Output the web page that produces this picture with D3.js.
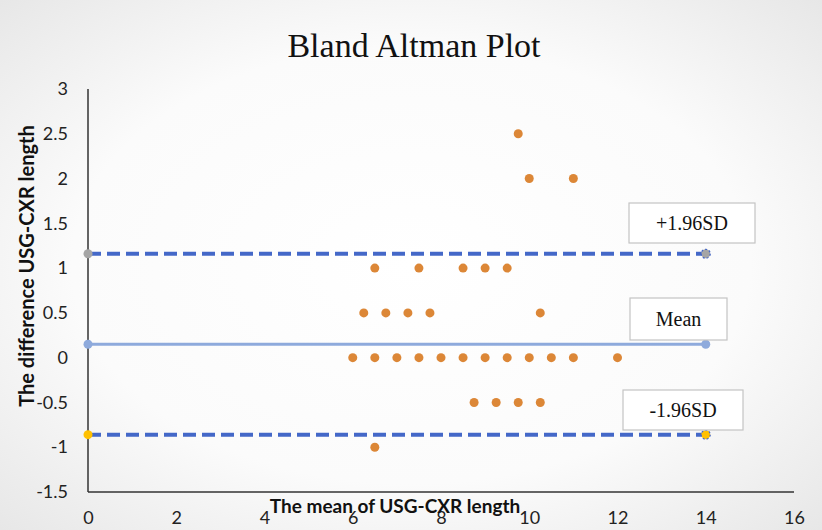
<!DOCTYPE html>
<html>
<head>
<meta charset="utf-8">
<script src="https://cdn.jsdelivr.net/npm/d3@7"></script>
<style>
  html, body { margin: 0; padding: 0; }
  body { width: 822px; height: 530px; overflow: hidden; }
  .tick text { font-family: Lato, "Open Sans", sans-serif; font-size: 18px; fill: #222; }
</style>
</head>
<body>
<div id="chart"></div>
<script>
// points: mean and difference of USG/CXR length
const meanVals = [9.75, 10, 11,
  6.5, 7.5, 8.5, 9, 9.5,
  6.25, 6.75, 7.25, 7.75, 10.25,
  6, 6.5, 7, 7.5, 8, 8.5, 9, 9.5, 10, 10.5, 11, 12,
  8.75, 9.25, 9.75, 10.25,
  6.5]
const diffVals = [2.5, 2, 2,
  1, 1, 1, 1, 1,
  0.5, 0.5, 0.5, 0.5, 0.5,
  0, 0, 0, 0, 0, 0, 0, 0, 0, 0, 0, 0,
  -0.5, -0.5, -0.5, -0.5,
  -1]

const refNames = ['+1.96SD', 'Mean', '-1.96SD']
const refValues = [1.16, 0.15, -0.86]
const refStart = 0
const refEnd = 14

const xTicks = [0, 2, 4, 6, 8, 10, 12, 14, 16]
const yTicks = [-1.5, -1, -0.5, 0, 0.5, 1, 1.5, 2, 2.5, 3]

const width = 822, height = 530
const svg = d3.select('#chart').append('svg')
    .attr('width', width)
    .attr('height', height)

const defs = svg.append('defs')
const grad = defs.append('radialGradient')
    .attr('id', 'bg')
    .attr('cx', '50%').attr('cy', '50%').attr('r', '75%')
grad.append('stop').attr('offset', '0%').attr('stop-color', '#ffffff')
grad.append('stop').attr('offset', '55%').attr('stop-color', '#fbfbfb')
grad.append('stop').attr('offset', '100%').attr('stop-color', '#e4e4e4')

svg.append('rect')
    .attr('width', width)
    .attr('height', height)
    .attr('fill', 'url(#bg)')

const xScale = d3.scaleLinear().domain([0, 16]).range([88, 794])
const yScale = d3.scaleLinear().domain([-1.5, 3]).range([492, 89])

// title
svg.append('text')
    .attr('x', 414)
    .attr('y', 57)
    .attr('text-anchor', 'middle')
    .style('font-family', '"Liberation Serif", "Times New Roman", serif')
    .style('font-size', '34px')
    .style('fill', '#111')
    .text('Bland Altman Plot')

// axes (labels only, lines drawn below)
const xAxis = svg.append('g')
    .attr('transform', 'translate(0,' + yScale(-1.5) + ')')
    .call(d3.axisBottom(xScale).tickValues(xTicks).tickSize(0).tickPadding(19))
xAxis.select('.domain').remove()

const yAxis = svg.append('g')
    .attr('transform', 'translate(' + xScale(0) + ',0)')
    .call(d3.axisLeft(yScale).tickValues(yTicks).tickSize(0).tickPadding(20).tickFormat(d => String(d)))
yAxis.select('.domain').remove()

svg.append('line')
    .attr('x1', xScale(0)).attr('x2', xScale(0))
    .attr('y1', yScale(3)).attr('y2', yScale(-1.5))
    .attr('stroke', '#333').attr('stroke-width', 1.5)
svg.append('line')
    .attr('x1', xScale(0)).attr('x2', xScale(16))
    .attr('y1', yScale(-1.5)).attr('y2', yScale(-1.5))
    .attr('stroke', '#333').attr('stroke-width', 1.5)

// axis titles
svg.append('text')
    .attr('x', 395)
    .attr('y', 513)
    .attr('text-anchor', 'middle')
    .style('font-family', 'Lato, "Open Sans", sans-serif')
    .style('font-weight', 'bold')
    .style('font-size', '19px')
    .style('fill', '#111')
    .text('The mean of USG-CXR length')

svg.append('text')
    .attr('transform', 'translate(34,266) rotate(-90)')
    .attr('text-anchor', 'middle')
    .style('font-family', 'Lato, "Open Sans", sans-serif')
    .style('font-weight', 'bold')
    .style('font-size', '20px')
    .style('fill', '#111')
    .text('The difference USG-CXR length')

// reference lines
const refStyle = [
  {stroke: '#4468c8', width: 4, dash: '13,6', start: '#a5a5a5', end: '#a5a5a5'},
  {stroke: '#8eaadc', width: 3, dash: null, start: '#8eaadc', end: '#8eaadc'},
  {stroke: '#4468c8', width: 4, dash: '13,6', start: '#ffc000', end: '#ffc000'}
]

refValues.forEach(function (v, i) {
  const s = refStyle[i]
  svg.append('line')
      .attr('x1', xScale(refStart)).attr('x2', xScale(refEnd))
      .attr('y1', yScale(v)).attr('y2', yScale(v))
      .attr('stroke', s.stroke)
      .attr('stroke-width', s.width)
      .attr('stroke-dasharray', s.dash)
  svg.append('circle')
      .attr('cx', xScale(refStart)).attr('cy', yScale(v)).attr('r', 4.5)
      .attr('fill', s.start)
  svg.append('circle')
      .attr('cx', xScale(refEnd)).attr('cy', yScale(v)).attr('r', 4.5)
      .attr('fill', s.end)
      .attr('stroke', i === 1 ? 'none' : '#4468c8')
      .attr('stroke-width', 1.2)
      .attr('stroke-dasharray', '2,2')
})

// points
svg.append('g')
  .selectAll('circle')
  .data(meanVals.map((m, i) => ({x: m, y: diffVals[i]})))
  .enter().append('circle')
    .attr('cx', d => xScale(d.x))
    .attr('cy', d => yScale(d.y))
    .attr('r', 4.5)
    .attr('fill', '#dc8737')

// label boxes
const boxes = [
  {x: 629, y: 203, w: 126, h: 40},
  {x: 630, y: 298, w: 97, h: 42},
  {x: 623, y: 390, w: 120, h: 40}
]
boxes.forEach(function (b, i) {
  svg.append('rect')
      .attr('x', b.x).attr('y', b.y)
      .attr('width', b.w).attr('height', b.h)
      .attr('fill', '#fff')
      .attr('stroke', '#c4c4c4')
      .attr('stroke-width', 1.2)
  svg.append('text')
      .attr('x', b.x + b.w / 2)
      .attr('y', b.y + b.h / 2 + 7)
      .attr('text-anchor', 'middle')
      .style('font-family', '"Liberation Serif", "Times New Roman", serif')
      .style('font-size', '20px')
      .style('fill', '#111')
      .text(refNames[i])
})
</script>
</body>
</html>
